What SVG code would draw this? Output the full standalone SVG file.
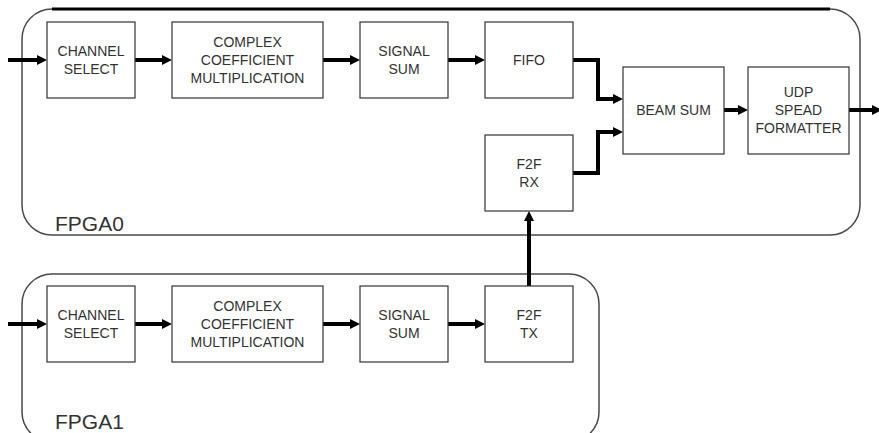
<svg xmlns="http://www.w3.org/2000/svg" width="879" height="433" viewBox="0 0 879 433">
<defs>
<marker id="ah" markerUnits="userSpaceOnUse" markerWidth="10" markerHeight="10" refX="0" refY="5" orient="auto" overflow="visible">
<path d="M0,0 L10,5 L0,10 z" fill="#000"/>
</marker>
<style>
.cont{fill:none;stroke:#4a4a4a;stroke-width:1.5}
.box{fill:#fff;stroke:#333;stroke-width:1.2}
.t{font-family:"Liberation Sans",Arial,sans-serif;font-size:14px;fill:#333;text-anchor:middle}
.lbl{font-family:"Liberation Sans",Arial,sans-serif;font-size:21px;fill:#333}
.c{fill:none;stroke:#000;stroke-width:4;stroke-linejoin:miter;marker-end:url(#ah)}
</style>
</defs>
<rect width="879" height="433" fill="#fff"/>
<g id="fpga0">
<rect class="cont" x="22" y="9" width="838" height="226" rx="30" ry="30"/>
<line x1="52" y1="9" x2="830" y2="9" stroke="#000" stroke-width="3"/>
<text class="lbl" x="55" y="231">FPGA0</text>
</g>
<g id="fpga1">
<rect class="cont" x="22" y="274" width="577" height="168" rx="30" ry="30"/>
<text class="lbl" x="55" y="429">FPGA1</text>
</g>
<g id="connectors">
<path class="c" d="M8,60 H37"/>
<path class="c" d="M135,60 H162"/>
<path class="c" d="M323,60 H350"/>
<path class="c" d="M448,60 H475"/>
<path class="c" d="M573,60 H598 V99 H613"/>
<path class="c" d="M573,173 H598 V132 H613"/>
<path class="c" d="M724,110 H738"/>
<path class="c" d="M849,110 H872"/>
<path class="c" d="M8,324 H37"/>
<path class="c" d="M135,324 H162"/>
<path class="c" d="M323,324 H350"/>
<path class="c" d="M448,324 H475"/>
<path class="c" d="M529,286 V221"/>
</g>
<g id="cs0"><rect class="box" x="47" y="22" width="88" height="76"/><text class="t" x="91" y="56">CHANNEL</text><text class="t" x="91" y="74">SELECT</text></g>
<g id="ccm0"><rect class="box" x="172" y="22" width="151" height="76"/><text class="t" x="247.5" y="47">COMPLEX</text><text class="t" x="247.5" y="65">COEFFICIENT</text><text class="t" x="247.5" y="83">MULTIPLICATION</text></g>
<g id="ss0"><rect class="box" x="360" y="22" width="88" height="76"/><text class="t" x="404" y="56">SIGNAL</text><text class="t" x="404" y="74">SUM</text></g>
<g id="fifo"><rect class="box" x="485" y="22" width="88" height="76"/><text class="t" x="529" y="65">FIFO</text></g>
<g id="beamsum"><rect class="box" x="623" y="67" width="101" height="87"/><text class="t" x="673.5" y="115">BEAM SUM</text></g>
<g id="udp"><rect class="box" x="748" y="67" width="101" height="87"/><text class="t" x="798.5" y="97">UDP</text><text class="t" x="798.5" y="115">SPEAD</text><text class="t" x="798.5" y="133">FORMATTER</text></g>
<g id="f2frx"><rect class="box" x="485" y="135" width="88" height="76"/><text class="t" x="529" y="169">F2F</text><text class="t" x="529" y="187">RX</text></g>
<g id="cs1"><rect class="box" x="47" y="286" width="88" height="76"/><text class="t" x="91" y="320">CHANNEL</text><text class="t" x="91" y="338">SELECT</text></g>
<g id="ccm1"><rect class="box" x="172" y="286" width="151" height="76"/><text class="t" x="247.5" y="311">COMPLEX</text><text class="t" x="247.5" y="329">COEFFICIENT</text><text class="t" x="247.5" y="347">MULTIPLICATION</text></g>
<g id="ss1"><rect class="box" x="360" y="286" width="88" height="76"/><text class="t" x="404" y="320">SIGNAL</text><text class="t" x="404" y="338">SUM</text></g>
<g id="f2ftx"><rect class="box" x="485" y="286" width="88" height="76"/><text class="t" x="529" y="320">F2F</text><text class="t" x="529" y="338">TX</text></g>
</svg>
